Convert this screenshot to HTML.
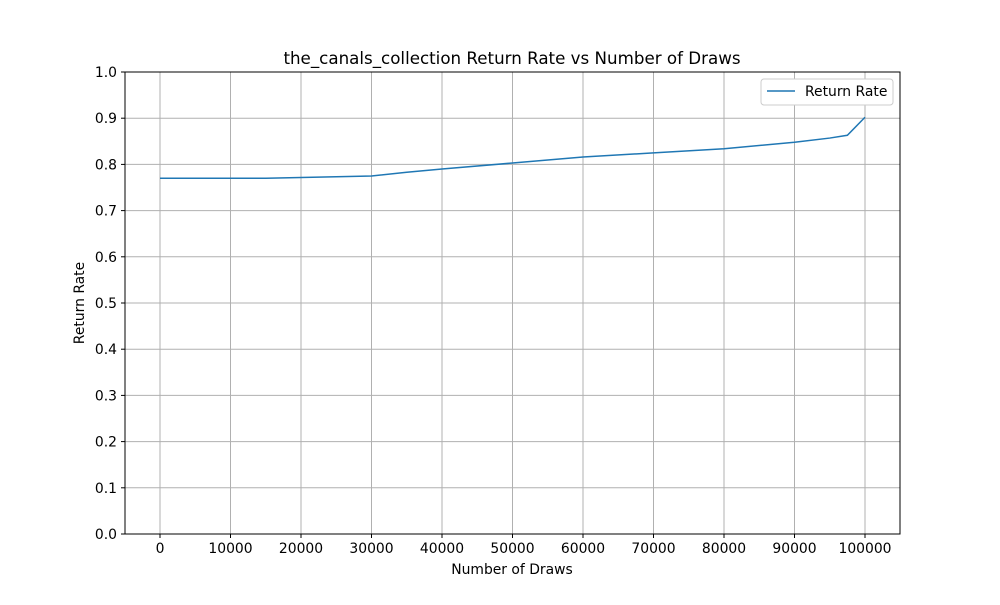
<!DOCTYPE html>
<html><head><meta charset="utf-8"><style>
body{margin:0;background:#fff;}
svg text{font-family:"DejaVu Sans","Liberation Sans",sans-serif;fill:#000;}
</style></head><body>
<svg id="chart" width="1000" height="600" xmlns="http://www.w3.org/2000/svg">
<rect width="1000" height="600" fill="#fff"/>
<g id="grid"></g>
<g id="ticks"></g>
<rect x="125" y="72" width="775" height="462" fill="none" stroke="#000" stroke-width="1"/>
<polyline id="line" fill="none" stroke="#1f77b4" stroke-width="1.5"/>
<text x="512" y="64" font-size="16.7" text-anchor="middle">the_canals_collection Return Rate vs Number of Draws</text>
<text x="512" y="574" font-size="13.9" text-anchor="middle">Number of Draws</text>
<text transform="translate(84,303) rotate(-90)" font-size="13.9" text-anchor="middle">Return Rate</text>
<g>
<rect x="761" y="79" width="132" height="26" rx="3" fill="#fff" stroke="#ccc"/>
<line x1="767" y1="91" x2="795" y2="91" stroke="#1f77b4" stroke-width="1.5"/>
<text x="805" y="96" font-size="13.9">Return Rate</text>
</g>
</svg>
<script>
const xs=[0,15000,30000,35000,40000,50000,60000,70000,80000,90000,95000,97500,100000];
const ys=[0.770,0.770,0.775,0.783,0.790,0.803,0.816,0.825,0.834,0.848,0.857,0.863,0.902];
const xTicks=[0,10000,20000,30000,40000,50000,60000,70000,80000,90000,100000];
const yTicks=[0,0.1,0.2,0.3,0.4,0.5,0.6,0.7,0.8,0.9,1.0];
const X=v=>160+v*705/100000, Y=v=>534-v*462;
const ns="http://www.w3.org/2000/svg";
const grid=document.getElementById('grid'), tk=document.getElementById('ticks');
function mk(tag,attrs,parent){const e=document.createElementNS(ns,tag);for(const k in attrs)e.setAttribute(k,attrs[k]);parent.appendChild(e);return e;}
xTicks.forEach(t=>{
 const g=mk('line',{x1:X(t),x2:X(t),y1:72,y2:534,stroke:'#b0b0b0','stroke-width':1},grid);
 
 
 mk('line',{x1:X(t),x2:X(t),y1:534,y2:538,stroke:'#000'},tk);
 const l=mk('text',{x:X(t),y:553,'font-size':13.9,'text-anchor':'middle'},tk);
 l.textContent=t;
 
 
});
yTicks.forEach(t=>{
 const g=mk('line',{x1:125,x2:900,y1:Y(t),y2:Y(t),stroke:'#b0b0b0','stroke-width':1},grid);
 
 
 mk('line',{x1:121,x2:125,y1:Y(t),y2:Y(t),stroke:'#000'},tk);
 const l=mk('text',{x:117,y:Y(t)+5,'font-size':13.9,'text-anchor':'end'},tk);
 l.textContent=t.toFixed(1);
 
 
});
document.getElementById('line').setAttribute('points',xs.map((x,i)=>X(x)+','+Y(ys[i])).join(' '));
</script>
</body></html>
